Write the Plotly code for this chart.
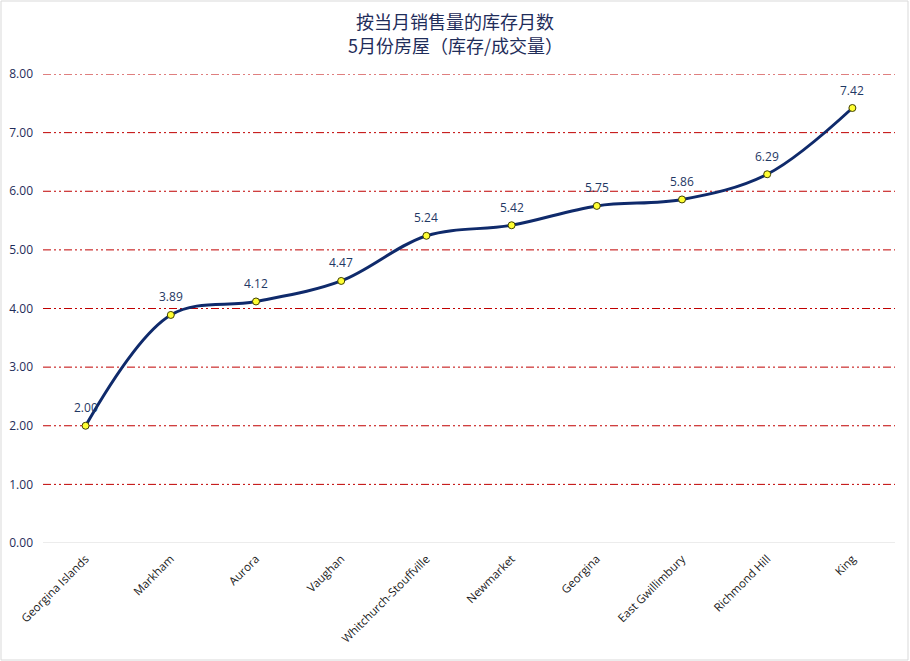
import plotly.graph_objects as go

regions = ["Georgina Islands", "Markham", "Aurora", "Vaughan", "Whitchurch-Stouffville",
           "Newmarket", "Georgina", "East Gwillimbury", "Richmond Hill", "King"]
months_inventory = [2.00, 3.89, 4.12, 4.47, 5.24, 5.42, 5.75, 5.86, 6.29, 7.42]
y_ticks = [0, 1, 2, 3, 4, 5, 6, 7, 8]
title_lines = ["按当月销售量的库存月数", "5月份房屋（库存/成交量）"]

W, H = 910, 661
ml, mr, mt, mb = 43, 15, 74, 118
pw = W - ml - mr
ph = H - mt - mb

fig = go.Figure()

# gridlines (dark red, long-dash dot dot)
for t in y_ticks[1:]:
    fig.add_shape(type="line", xref="paper", yref="y", x0=0, x1=1, y0=t, y1=t,
                  line=dict(color="#C00000", width=1, dash="8px,3px,2px,3px,2px,3px"),
                  layer="below")
fig.add_shape(type="line", xref="paper", yref="y", x0=0, x1=1, y0=y_ticks[0], y1=y_ticks[0],
              line=dict(color="#D9D9D9", width=1), layer="below")

fig.add_trace(go.Scatter(
    x=regions, y=months_inventory,
    mode="lines+markers",
    line=dict(color="#0F2A6B", width=3, shape="spline", smoothing=1.0),
    marker=dict(size=7, color="#FFFF33", line=dict(color="#404000", width=1)),
    cliponaxis=False,
    hoverinfo="skip",
))

for r, v in zip(regions, months_inventory):
    fig.add_annotation(x=r, y=v, text=f"{v:.2f}", showarrow=False,
                       yshift=18,
                       font=dict(family="Open Sans, Noto Sans", size=12, color="#1F3864"))

# title lines
for i, (line, py) in enumerate(zip(title_lines, [21, 45])):
    fig.add_annotation(x=(W / 2 - ml) / pw, y=1 + (mt - py) / ph, xref="paper", yref="paper",
                       text=line, showarrow=False, xanchor="center", yanchor="middle",
                       font=dict(family="Noto Sans CJK SC", size=18, color="#1F2D5A"))

fig.add_shape(type="rect", xref="paper", yref="paper",
              x0=(1 - ml) / pw, x1=(W - 2 - ml) / pw,
              y0=-(mb - 1) / ph, y1=1 + (mt - 1) / ph,
              line=dict(color="#D9D9D9", width=1), layer="below")

fig.update_layout(
    width=W, height=H,
    margin=dict(l=ml, r=mr, t=mt, b=mb, autoexpand=False),
    paper_bgcolor="white", plot_bgcolor="white",
    showlegend=False,
    xaxis=dict(
        type="category", showgrid=False, showline=False, zeroline=False,
        tickangle=-45, ticks="", automargin=False,
        ticklabelstandoff=6,
        tickfont=dict(family="Open Sans, Noto Sans", size=11.5, color="#1A1A1A"),
        range=[-0.5, len(regions) - 0.5],
    ),
    yaxis=dict(
        range=[0, 8], tickvals=y_ticks, tickformat=".2f",
        showgrid=False, automargin=False,
        zeroline=False, showline=False, ticks="",
        ticklabelstandoff=9,
        tickfont=dict(family="Open Sans, Noto Sans", size=12, color="#1F2D5A"),
    ),
)

fig.write_html("out.html", config={"displayModeBar": False},
               post_script="document.body.style.margin='0';")
